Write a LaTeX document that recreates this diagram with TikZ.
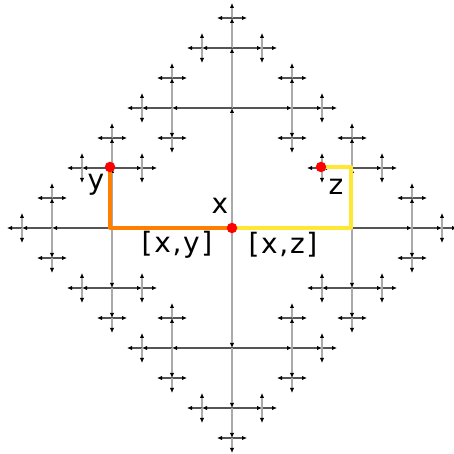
\documentclass[tikz,border=0pt]{standalone}
\usepackage{fontspec}
\setmainfont{DejaVu Sans}
\newfontfamily\labfont[LetterSpace=6]{DejaVu Sans}
\usetikzlibrary{arrows.meta}
\definecolor{hcol}{HTML}{555555}
\definecolor{vcol}{HTML}{AAAAAA}
\definecolor{orangepath}{HTML}{FF8000}
\definecolor{yellowpath}{HTML}{FFE833}
\definecolor{dotred}{HTML}{FF0000}
\tikzset{
  edge/.style={line width=1.1pt,-{Latex[length=5pt,width=4.5pt,color=black]}},
  hedge/.style={edge,draw=hcol},
  vedge/.style={edge,draw=vcol},
  hl/.style={line width=3.3pt,line join=round},
  dot/.style={circle,fill=dotred,inner sep=0pt,minimum size=10.5pt},
  lab/.style={font=\labfont\fontsize{28}{30}\selectfont,inner sep=0pt}
}
% #1 x, #2 y, #3 length, #4 incoming direction, #5 depth
\newcommand\cayleytree[5]{%
  \ifnum#5>0
    \foreach \d in {0,1,2,3}{%
      \pgfmathtruncatemacro\opp{mod(\d+2,4)}%
      \ifnum\opp=#4\relax\else
        \pgfmathsetmacro\nx{#1+#3*round(cos(90*\d))}%
        \pgfmathsetmacro\ny{#2+#3*round(sin(90*\d))}%
        \pgfmathtruncatemacro\nd{#5-1}%
        \pgfmathsetmacro\nl{#3/2}%
        \ifodd\d\relax
          \draw[vedge] (#1pt,#2pt) -- (\nx pt,\ny pt);
        \else
          \draw[hedge] (#1pt,#2pt) -- (\nx pt,\ny pt);
        \fi
        \edef\next{\noexpand\cayleytree{\nx}{\ny}{\nl}{\d}{\nd}}\next
      \fi
    }%
  \fi
}
\begin{document}
\begin{tikzpicture}[x=1pt,y=1pt]
\useasboundingbox (0,0) rectangle (453,454);
% centre at (232,228) in image coordinates -> (232, 454-228=226)
\cayleytree{232}{226}{120}{-1}{4}
\coordinate (xx) at (232,226);
\coordinate (c1) at (110,226);
\coordinate (c2) at (351,226);
\coordinate (c3) at (351,287);
\draw[hl,orangepath] (xx) -- (c1) -- (110,287) coordinate (yy);
\draw[hl,yellowpath] (xx) -- (c2) -- (c3) -- (321,287) coordinate (zz);
\node[dot] (nx) at (xx) {};
\node[dot] (ny) at (yy) {};
\node[dot] (nz) at (zz) {};
\node[lab] (lx) at (220,248) {x};
\node[lab] (ly) at (96,269) {y};
\node[lab] (lz) at (336,267) {z};
\node[lab] (lxy) at (177,209) {[x,y]};
\node[lab] (lxz) at (283,209) {[x,z]};
\end{tikzpicture}
\end{document}
